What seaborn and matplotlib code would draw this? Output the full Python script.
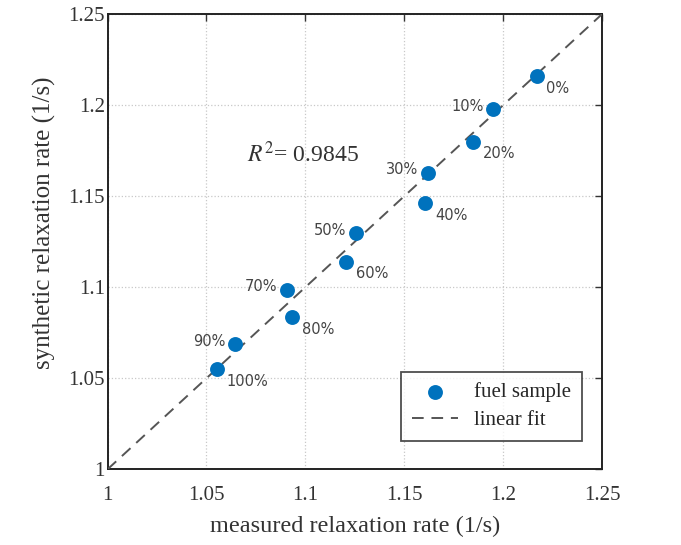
import matplotlib
matplotlib.use("Agg")
import matplotlib.pyplot as plt
import seaborn as sns
import numpy as np
import pandas as pd

labels = ["0%", "10%", "20%", "30%", "40%", "50%", "60%", "70%", "80%", "90%", "100%"]
measured = [1.217, 1.195, 1.185, 1.162, 1.1606, 1.1258, 1.1206, 1.0907, 1.0933, 1.0643, 1.0551]
synthetic = [1.216, 1.198, 1.180, 1.163, 1.146, 1.1298, 1.1139, 1.0987, 1.0835, 1.0689, 1.0548]
label_side = ["r", "l", "r", "l", "r", "l", "r", "l", "r", "l", "r"]
fit_x = [1.0, 1.25]
fit_y = [1.0, 1.25]
xticks = [1, 1.05, 1.1, 1.15, 1.2, 1.25]
yticks = [1, 1.05, 1.1, 1.15, 1.2, 1.25]
xtick_labels = ["1", "1.05", "1.1", "1.15", "1.2", "1.25"]
ytick_labels = ["1", "1.05", "1.1", "1.15", "1.2", "1.25"]

sns.set_style("white")
plt.rcParams["font.family"] = ["Liberation Serif", "DejaVu Serif"]
plt.rcParams["mathtext.fontset"] = "stix"

df = pd.DataFrame({"measured": measured, "synthetic": synthetic, "label": labels})
fit_df = pd.DataFrame({"x": fit_x, "y": fit_y})

fig = plt.figure(figsize=(6.81, 5.45), dpi=100)
ax = fig.add_axes([0.158, 0.139, 0.726, 0.835])

blue = "#0072BD"
txt = "#333333"
sns.lineplot(data=fit_df, x="x", y="y", ax=ax, color="#555555", lw=1.4,
             linestyle=(0, (6, 4)), label="linear fit", zorder=3)
sns.scatterplot(data=df, x="measured", y="synthetic", ax=ax, color=blue, s=115,
                edgecolor=blue, linewidth=0, label="fuel sample", zorder=4)

for x, y, t, side in zip(measured, synthetic, labels, label_side):
    if side == "r":
        ax.annotate(t, (x, y), xytext=(7, -14), textcoords="offset points",
                    fontsize=10.5, color="#444444", family="DejaVu Sans", ha="left", va="bottom")
    else:
        ax.annotate(t, (x, y), xytext=(-7, 2), textcoords="offset points",
                    fontsize=10.5, color="#444444", family="DejaVu Sans", ha="right", va="center")

ax.text(1.0703, 1.1727, r"$R^2$= 0.9845", fontsize=17, color=txt, va="center", ha="left")

ax.set_xlim(1, 1.25)
ax.set_ylim(1, 1.25)
ax.set_xticks(xticks)
ax.set_xticklabels(xtick_labels)
ax.set_yticks(yticks)
ax.set_yticklabels(ytick_labels)
ax.tick_params(direction="in", top=True, right=True, length=5, width=1,
               labelsize=15, colors=txt)
ax.tick_params(axis="x", pad=12)
ax.tick_params(axis="y", pad=2)
ax.grid(True, linestyle=":", color="#c8c8c8", lw=0.9)
for sp in ax.spines.values():
    sp.set_linewidth(1.4)
    sp.set_color("#222222")

ax.set_xlabel("measured relaxation rate (1/s)", fontsize=17.5, color=txt, labelpad=8)
ax.set_ylabel("synthetic relaxation rate (1/s)", fontsize=18, color=txt)
ax.yaxis.set_label_coords(-0.104, 0.542)

h, l = ax.get_legend_handles_labels()
order = [l.index("fuel sample"), l.index("linear fit")]
leg = ax.legend([h[i] for i in order], [l[i] for i in order], loc="lower right",
                bbox_to_anchor=(0.98, 0.04), fontsize=15, frameon=True, fancybox=False,
                edgecolor="#222222", handlelength=2.2, borderpad=0.5, labelspacing=0.4)
leg.get_frame().set_linewidth(1.3)

fig.savefig("out.png", dpi=100)
